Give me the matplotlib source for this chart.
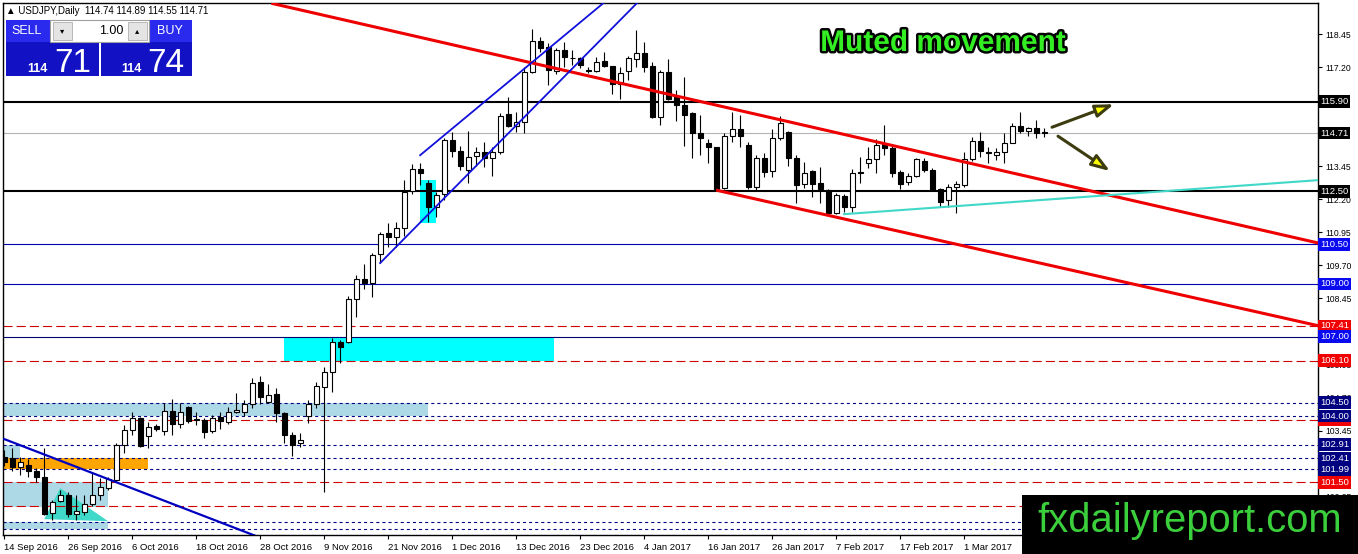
import matplotlib.pyplot as plt
import matplotlib.patheffects as pe
from matplotlib.patches import Rectangle, Polygon
import numpy as np

plt.rcParams['font.family'] = ['Liberation Sans', 'DejaVu Sans']
plt.rcParams['lines.scale_dashes'] = False

#--------------------------------------------#
#            DATA (USDJPY daily)
#--------------------------------------------#
opens = [102.45, 102.43, 102.09, 102.16, 101.94, 101.71, 100.35, 100.77, 101.03, 100.31,
         100.38, 100.69, 101.03, 101.26, 101.59, 102.92, 103.49, 103.94, 103.26, 103.64,
         103.45, 104.20, 103.71, 104.36, 103.90, 103.86, 103.45, 103.98, 103.79, 104.17,
         104.17, 104.47, 105.30, 104.54, 104.85, 104.13, 103.30, 102.99, 104.02, 104.47,
         105.11, 105.68, 106.81, 106.81, 108.44, 109.19, 109.04, 110.14, 110.93, 110.78,
         111.12, 112.52, 113.35, 112.82, 111.92, 112.41, 114.45, 114.03, 113.31, 113.84,
         113.99, 113.77, 113.99, 115.43, 114.98, 115.13, 117.02, 118.19, 117.96, 117.06,
         117.85, 117.55, 117.55, 117.08, 117.06, 117.43, 117.25, 116.56, 117.06, 117.51,
         117.74, 117.25, 115.32, 117.02, 116.07, 115.77, 115.47, 114.71, 114.33, 114.18,
         112.63, 114.60, 114.86, 114.26, 112.67, 113.77, 113.28, 114.52, 114.75, 113.77,
         112.78, 113.28, 112.82, 112.56, 111.69, 112.33, 111.92, 113.24, 113.58, 113.73,
         114.30, 114.14, 113.24, 112.86, 113.09, 113.65, 113.31, 112.59, 112.18, 112.67,
         112.75, 113.73, 114.41, 113.96, 113.88, 113.99, 114.33, 114.98, 114.79, 114.90,
         114.74]
highs = [102.70, 102.81, 102.47, 102.39, 102.05, 102.81, 100.84, 101.22, 101.14, 101.03,
         101.03, 101.86, 101.67, 101.71, 103.00, 103.67, 104.17, 103.98, 103.79, 103.71,
         104.51, 104.66, 104.51, 104.40, 104.17, 103.94, 104.05, 104.17, 104.36, 104.88,
         104.62, 105.45, 105.53, 105.22, 105.07, 104.17, 103.41, 103.37, 104.62, 105.30,
         105.87, 106.96, 106.88, 108.55, 109.34, 109.76, 110.18, 110.97, 111.31, 111.35,
         112.94, 113.54, 113.58, 112.94, 112.48, 114.52, 114.75, 114.22, 114.79, 114.18,
         114.37, 114.18, 115.47, 116.07, 115.50, 117.21, 118.64, 118.34, 118.11, 117.93,
         118.15, 117.85, 117.59, 117.21, 117.59, 117.77, 117.25, 117.21, 117.62, 118.60,
         118.15, 117.40, 117.09, 117.51, 116.33, 116.83, 115.50, 115.39, 114.48, 114.18,
         114.71, 115.50, 115.39, 114.37, 113.88, 113.96, 114.86, 115.35, 114.79, 113.88,
         113.62, 113.31, 113.43, 112.59, 112.44, 112.41, 113.35, 113.80, 114.18, 114.48,
         115.01, 114.26, 113.31, 113.20, 113.77, 113.77, 113.39, 112.63, 112.78, 112.90,
         114.00, 114.56, 114.75, 114.18, 114.14, 114.71, 115.09, 115.50, 114.94, 115.20,
         114.89]
lows = [102.10, 101.94, 101.78, 101.71, 101.52, 100.27, 100.08, 100.73, 100.20, 100.08,
        100.27, 100.58, 100.84, 101.22, 101.52, 102.62, 103.30, 102.84, 102.81, 103.45,
        103.30, 103.30, 103.56, 103.75, 103.67, 103.18, 103.37, 103.52, 103.71, 104.13,
        104.02, 104.32, 104.47, 104.51, 103.79, 102.99, 102.50, 102.84, 103.75, 104.32,
        101.14, 104.92, 106.02, 106.77, 107.76, 108.82, 108.51, 109.80, 110.40, 110.40,
        110.82, 112.41, 112.75, 111.35, 111.54, 112.18, 113.80, 113.31, 112.82, 113.46,
        113.43, 113.09, 113.92, 114.94, 114.75, 114.71, 116.98, 117.77, 116.53, 116.94,
        117.21, 117.28, 117.17, 116.98, 117.02, 117.21, 116.19, 116.00, 116.71, 117.21,
        117.02, 115.28, 115.01, 115.96, 115.16, 114.22, 113.77, 113.88, 113.58, 112.56,
        112.59, 114.37, 114.18, 112.60, 112.56, 113.05, 113.05, 114.44, 113.46, 112.07,
        112.63, 112.29, 112.07, 111.61, 111.65, 111.72, 111.72, 112.82, 113.39, 113.20,
        113.88, 113.05, 112.59, 112.75, 113.05, 113.24, 112.52, 111.92, 111.92, 111.69,
        112.67, 113.65, 113.80, 113.58, 113.69, 113.58, 114.33, 114.71, 114.60, 114.52,
        114.55]
closes = [102.25, 102.09, 102.28, 101.94, 101.71, 100.31, 100.73, 101.03, 100.31, 100.42,
          100.69, 101.03, 101.33, 101.63, 102.92, 103.49, 103.94, 102.88, 103.60, 103.52,
          104.20, 103.71, 104.17, 103.83, 103.86, 103.41, 103.94, 103.83, 104.17, 104.24,
          104.47, 105.26, 104.73, 104.81, 104.13, 103.30, 102.92, 103.10, 104.47, 105.15,
          105.68, 106.81, 106.62, 108.44, 109.19, 109.04, 110.10, 110.89, 110.78, 111.12,
          112.48, 113.35, 113.20, 111.92, 112.37, 114.45, 114.03, 113.46, 113.80, 113.99,
          113.77, 113.99, 115.35, 114.98, 115.13, 117.02, 118.19, 117.93, 117.09, 117.85,
          117.59, 117.55, 117.28, 117.05, 117.40, 117.25, 116.56, 116.98, 117.55, 117.74,
          117.21, 115.32, 117.02, 116.00, 115.77, 115.39, 114.71, 114.52, 114.18, 112.59,
          114.60, 114.86, 114.60, 112.67, 113.77, 113.24, 114.52, 115.09, 113.77, 112.75,
          113.20, 112.78, 112.59, 111.69, 112.37, 111.92, 113.20, 113.20, 113.73, 114.26,
          114.14, 113.20, 112.78, 113.09, 113.73, 113.31, 112.56, 112.10, 112.67, 112.78,
          113.73, 114.41, 114.03, 113.99, 113.99, 114.33, 114.98, 114.79, 114.90, 114.71,
          114.71]

date_labels = ["14 Sep 2016", "26 Sep 2016", "6 Oct 2016", "18 Oct 2016", "28 Oct 2016",
               "9 Nov 2016", "21 Nov 2016", "1 Dec 2016", "13 Dec 2016", "23 Dec 2016",
               "4 Jan 2017", "16 Jan 2017", "26 Jan 2017", "7 Feb 2017", "17 Feb 2017",
               "1 Mar 2017"]
label_every = 8

# price scale labels that are not covered by the price tags
scale_ticks = [100.95, 103.45, 104.70, 105.95, 108.45, 109.70, 110.95, 112.20,
               113.45, 117.20, 118.45]

# horizontal levels: price, kind
levels = [(115.90, 'black'), (114.71, 'bid'), (112.50, 'black'), (110.50, 'blue'),
          (109.00, 'blue'), (107.41, 'red'), (107.00, 'navy'), (106.10, 'red'),
          (104.50, 'dot'), (104.00, 'dot'), (103.86, 'red'), (102.91, 'dot'),
          (102.41, 'dot'), (101.99, 'dot'), (101.50, 'red'), (100.59, 'red'),
          (99.99, 'dot'), (99.72, 'dot')]

# price tags on the right: price, background
tags = [(115.90, 'black'), (114.71, 'black'), (112.50, 'black'), (110.50, '#0a0af0'),
        (109.00, '#0a0af0'), (107.41, '#f00000'), (107.00, '#0a0af0'), (106.10, '#f00000'),
        (104.50, '#000080'), (103.86, '#f00000'), (104.00, '#000080'), (102.91, '#000080'),
        (102.41, '#000080'), (101.99, '#000080'), (101.50, '#f00000')]

# trend lines: (bar0, price0, bar1, price1)
red_lines = [(33.4, 119.62, 164.4, 110.54), (89.0, 112.55, 164.4, 107.41)]
blue_channel = [(47.0, 109.79, 80.0, 119.9), (52.0, 113.87, 76.0, 119.9)]
blue_down = (0.0, 103.13, 35.0, 99.05)
turq_line = (105.0, 111.64, 164.4, 112.93)

# zones: (bar0, bar1, price_low, price_high, colour)
zones = [(35.0, 68.75, 106.10, 107.00, '#00ffff'),
         (52.0, 54.0, 111.30, 112.93, '#00ffff'),
         (-1.0, 53.0, 104.00, 104.50, '#add8e6'),
         (-1.0, 18.0, 101.99, 102.41, '#ffa500'),
         (-1.0, 2.0, 102.41, 102.91, '#add8e6'),
         (-1.0, 13.0, 100.55, 101.50, '#add8e6'),
         (-1.0, 13.0, 99.72, 99.99, '#add8e6')]
triangle = [(5.0, 100.10), (7.0, 101.27), (13.0, 100.02)]

arrows = [((131.0, 114.93), (138.75, 115.80)), ((131.75, 114.59), (138.25, 113.27))]

#--------------------------------------------#

W, H = 1358, 554
fig = plt.figure(figsize=(W / 100, H / 100), dpi=100)
ax = fig.add_axes([3 / W, 1 - 535 / H, (1318 - 3) / W, (535 - 3) / H])

n = len(opens)
k = np.arange(n)
o = np.array(opens); c = np.array(closes)
h = np.array(highs); l = np.array(lows)

for b0, b1, p0, p1, col in zones:
    ax.add_patch(Rectangle((b0, p0), b1 - b0, p1 - p0, color=col, lw=0, zorder=1))
ax.add_patch(Polygon(triangle, closed=True, color='#40d8c8', lw=0, zorder=1))

for p, kind in levels:
    if kind == 'black':
        ax.axhline(p, color='black', lw=1.5, zorder=2)
    elif kind == 'bid':
        ax.axhline(p, color='#b4b4b4', lw=0.8, zorder=2)
    elif kind == 'blue':
        ax.axhline(p, color='#0000b0', lw=0.8, zorder=2)
    elif kind == 'navy':
        ax.axhline(p, color='#000070', lw=0.8, zorder=2)
    elif kind == 'red':
        ax.axhline(p, color='#d00000', lw=0.8, dashes=(6.5, 3.0), zorder=2)
    else:
        ax.axhline(p, color='#000080', lw=0.8, dashes=(2.2, 2.2), zorder=2)

# candles
ax.vlines(k, l, h, color='black', lw=0.8, zorder=3)
up = c >= o
ax.bar(k[up], c[up] - o[up], bottom=o[up], width=0.62, color='white',
       edgecolor='black', lw=0.8, zorder=3)
ax.bar(k[~up], o[~up] - c[~up], bottom=c[~up], width=0.62, color='black',
       edgecolor='black', lw=0.8, zorder=3)

for x0, y0, x1, y1 in red_lines:
    ax.plot([x0, x1], [y0, y1], color='#ee0000', lw=2.2, zorder=4, solid_capstyle='butt')
for x0, y0, x1, y1 in blue_channel:
    ax.plot([x0, x1], [y0, y1], color='#1010dd', lw=1.3, zorder=4)
ax.plot(blue_down[::2], blue_down[1::2], color='#0000c0', lw=1.6, zorder=4)
ax.plot(turq_line[::2], turq_line[1::2], color='#40d8c8', lw=1.5, zorder=4)

for start, end in arrows:
    ax.annotate('', xy=end, xytext=start,
                arrowprops=dict(arrowstyle='-|>,head_length=1.1,head_width=0.38',
                                fc='#ffff00', ec='#3c3c10', lw=2.2, shrinkA=0, shrinkB=0),
                zorder=5)

ax.set_xlim(-0.15, 164.25)
ax.set_ylim(99.50, 119.63)
ax.set_xticks(np.arange(len(date_labels)) * label_every)
ax.set_xticklabels(date_labels, ha='left', fontsize=6.8)
ax.yaxis.tick_right()
ax.set_yticks(scale_ticks)
ax.set_yticklabels(['%.2f' % v for v in scale_ticks], fontsize=6.2)
ax.tick_params(axis='both', length=3, width=0.8, pad=2, colors='black')
ax.tick_params(axis='x', pad=3)
for s in ax.spines.values():
    s.set_linewidth(1.0)

tr = ax.get_yaxis_transform()
for p, bg in tags:
    ax.text(1.0015, p, '%.2f' % p, transform=tr, fontsize=6.8, color='white',
            va='center', ha='left', clip_on=False, zorder=6,
            bbox=dict(boxstyle='square,pad=0.2', fc=bg, ec='none'))

# heading
fig.text(6 / W, 1 - 11 / H, '\u25b2 USDJPY,Daily  114.74 114.89 114.55 114.71',
         fontsize=7, va='center', ha='left', family=['Liberation Sans', 'DejaVu Sans'])

# one-click trading panel
def px_rect(x0, y0, x1, y1, **kw):
    fig.add_artist(Rectangle((x0 / W, 1 - y1 / H), (x1 - x0) / W, (y1 - y0) / H,
                             transform=fig.transFigure, **kw))

px_rect(6, 20, 50, 42, fc='#2a2aee', ec='none', zorder=10)
px_rect(149, 20, 192, 42, fc='#2a2aee', ec='none', zorder=10)
px_rect(6, 42, 99, 76, fc='#1212c4', ec='none', zorder=10)
px_rect(101, 42, 192, 76, fc='#1212c4', ec='none', zorder=10)
px_rect(50, 20, 149, 42, fc='white', ec='#a0a0a0', lw=0.8, zorder=10)
px_rect(53, 22, 72, 40, fc='#e4e4e4', ec='#b0b0b0', lw=0.6, zorder=11)
px_rect(128, 22, 147, 40, fc='#e4e4e4', ec='#b0b0b0', lw=0.6, zorder=11)
fig.text(62.5 / W, 1 - 31 / H, '\u25be', fontsize=6, ha='center', va='center',
         family='DejaVu Sans', zorder=12)
fig.text(137.5 / W, 1 - 31 / H, '\u25b4', fontsize=6, ha='center', va='center',
         family='DejaVu Sans', zorder=12)
fig.text(123 / W, 1 - 31 / H, '1.00', fontsize=9, ha='right', va='center', zorder=12)
fig.text(27 / W, 1 - 31 / H, 'SELL', fontsize=9, ha='center', va='center',
         color='white', zorder=12)
fig.text(170 / W, 1 - 31 / H, 'BUY', fontsize=9, ha='center', va='center',
         color='white', zorder=12)
fig.text(48 / W, 1 - 72 / H, '114', fontsize=9, ha='right', va='baseline',
         color='white', weight='bold', zorder=12)
fig.text(54 / W, 1 - 72 / H, '71', fontsize=24, ha='left', va='baseline',
         color='white', zorder=12)
fig.text(142 / W, 1 - 72 / H, '114', fontsize=9, ha='right', va='baseline',
         color='white', weight='bold', zorder=12)
fig.text(147 / W, 1 - 72 / H, '74', fontsize=24, ha='left', va='baseline',
         color='white', zorder=12)

# headline
t = fig.text(943 / W, 1 - 43 / H, 'Muted movement', fontsize=21.5, weight='bold',
             color='#33ee22', ha='center', va='center', zorder=12)
t.set_path_effects([pe.withStroke(linewidth=3.5, foreground='black')])

# watermark
px_rect(1022, 495, 1358, 554, fc='black', ec='none', zorder=10)
fig.text(1190 / W, 1 - 532 / H, 'fxdailyreport.com', fontsize=28.8, color='#3ccf3c',
         ha='center', va='baseline', zorder=12)

plt.savefig('out.png', dpi=100)
